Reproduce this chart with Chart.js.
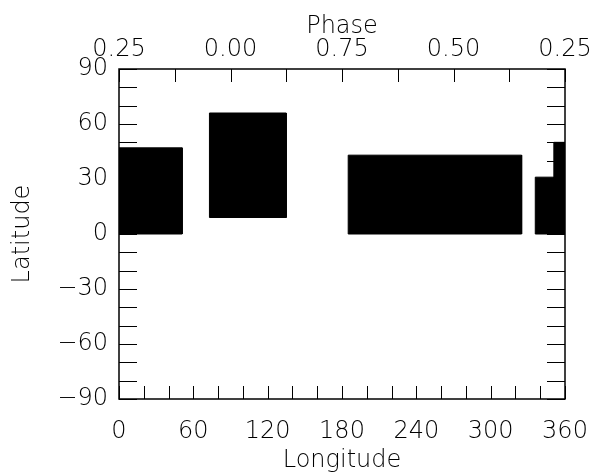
<!DOCTYPE html>
<html>
<head>
<meta charset="utf-8">
<script src="https://cdn.jsdelivr.net/npm/chart.js@4"></script>
<style>
  html, body { margin: 0; padding: 0; background: #fff; }
  #wrap { width: 594px; height: 476px; }
</style>
</head>
<body>
<div id="wrap"><canvas id="chart" width="594" height="476"></canvas></div>
<script>
// Spot regions (degrees)
const lonStart = [0, 73, 185, 336, 351];
const lonEnd   = [51, 135, 325, 351, 360];
const latLow   = [0, 9, 0, 0, 0];
const latHigh  = [47, 66, 43, 31, 50];

// Top axis: phase labels at these longitudes
const phaseLon    = [0, 90, 180, 270, 360];
const phaseLabels = ['0.25', '0.00', '0.75', '0.50', '0.25'];

const FONT = { family: "'DejaVu Sans', sans-serif", size: 24, weight: 200 };

// --- build one closed polygon per spot ---
const datasets = lonStart.map((x0, i) => ({
  data: [
    { x: x0, y: latLow[i] },
    { x: x0, y: latHigh[i] },
    { x: lonEnd[i], y: latHigh[i] },
    { x: lonEnd[i], y: latLow[i] },
    { x: x0, y: latLow[i] }
  ],
  showLine: true,
  fill: 'shape',
  backgroundColor: '#000',
  borderColor: '#000',
  borderWidth: 1,
  pointRadius: 0,
  tension: 0
}));

// inward tick marks, IDL style
const insideTicks = {
  id: 'insideTicks',
  afterDraw(chart) {
    const { ctx, chartArea: a, scales } = chart;
    ctx.save();
    ctx.strokeStyle = '#000';
    ctx.lineWidth = 1;
    ctx.beginPath();
    scales.x.ticks.forEach(t => {
      const px = Math.round(scales.x.getPixelForValue(t.value)) + 0.5;
      ctx.moveTo(px, a.bottom); ctx.lineTo(px, a.bottom - 13);
    });
    scales.x2.ticks.forEach(t => {
      const px = Math.round(scales.x2.getPixelForValue(t.value)) + 0.5;
      ctx.moveTo(px, a.top); ctx.lineTo(px, a.top + 13);
    });
    scales.y.ticks.forEach(t => {
      const py = Math.round(scales.y.getPixelForValue(t.value)) + 0.5;
      ctx.moveTo(a.left, py); ctx.lineTo(a.left + 18, py);
    });
    scales.y2.ticks.forEach(t => {
      const py = Math.round(scales.y2.getPixelForValue(t.value)) + 0.5;
      ctx.moveTo(a.right, py); ctx.lineTo(a.right - 18, py);
    });
    ctx.stroke();
    ctx.lineWidth = 1.5;
    ctx.strokeRect(a.left, a.top, a.right - a.left, a.bottom - a.top);
    ctx.restore();
  }
};

// pin the plot box: fixed axis sizes, no label overhang padding
const fixSize = (w, h) => scale => {
  if (w != null) scale.width = w;
  if (h != null) scale.height = h;
  scale.paddingLeft = 0;
  scale.paddingRight = 0;
  scale.paddingTop = 0;
  scale.paddingBottom = 0;
};

new Chart(document.getElementById('chart'), {
  type: 'scatter',
  data: { datasets },
  options: {
    responsive: false,
    animation: false,
    layout: { padding: 0 },
    plugins: { legend: { display: false }, tooltip: { enabled: false } },
    scales: {
      x: {
        type: 'linear', position: 'bottom', min: 0, max: 360,
        afterFit: fixSize(null, 77),
        grid: { display: false, drawTicks: false },
        border: { display: false },
        ticks: {
          stepSize: 20, autoSkip: false, maxRotation: 0, padding: 18,
          color: '#000', font: FONT,
          callback: v => (v % 60 === 0 ? String(v) : '')
        },
        title: { display: true, text: 'Longitude', color: '#000', font: FONT, padding: { top: 0, bottom: 1 } }
      },
      x2: {
        type: 'linear', position: 'top', min: 0, max: 360,
        afterFit: fixSize(null, 69),
        grid: { display: false, drawTicks: false },
        border: { display: false },
        ticks: {
          stepSize: 45, autoSkip: false, maxRotation: 0, padding: 5,
          color: '#000', font: FONT,
          callback: v => {
            const i = phaseLon.indexOf(v);
            return i >= 0 ? phaseLabels[i] : '';
          }
        },
        title: { display: true, text: 'Phase', color: '#000', font: FONT, padding: { top: 12, bottom: 0 } }
      },
      y: {
        type: 'linear', position: 'left', min: -90, max: 90,
        afterFit: fixSize(119, null),
        grid: { display: false, drawTicks: false },
        border: { display: false },
        ticks: {
          stepSize: 10, autoSkip: false, padding: 11,
          color: '#000', font: FONT,
          callback: v => (v % 30 === 0 ? String(v).replace('-', '\u2212') : '')
        },
        title: { display: true, text: 'Latitude', color: '#000', font: FONT, padding: { top: 8, bottom: 0 } }
      },
      y2: {
        type: 'linear', position: 'right', min: -90, max: 90,
        afterFit: fixSize(29, null),
        grid: { display: false, drawTicks: false },
        border: { display: false },
        ticks: { stepSize: 10, autoSkip: false, display: true, color: 'rgba(0,0,0,0)', font: { size: 1 }, callback: () => '' }
      }
    }
  },
  plugins: [insideTicks]
});
</script>
</body>
</html>
